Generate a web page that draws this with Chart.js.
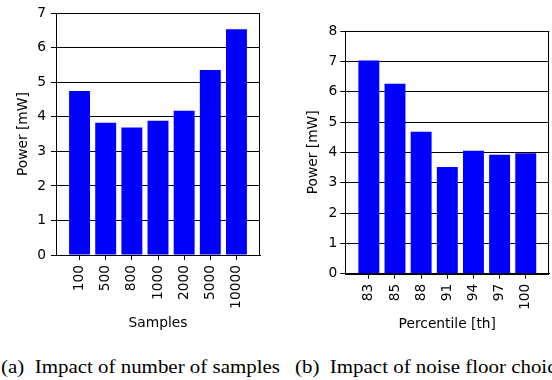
<!DOCTYPE html>
<html>
<head>
<meta charset="utf-8">
<script src="https://cdn.jsdelivr.net/npm/chart.js@4.4.0/dist/chart.umd.min.js"></script>
<style>
  body { margin: 0; background: #fff; }
  #wrap { position: relative; width: 552px; height: 380px; overflow: hidden; background: #fff; }
  .box { position: absolute; }
  .caption {
    position: absolute; white-space: pre; font-family: "Liberation Serif", "Times New Roman", serif;
    font-size: 18px; line-height: 18px; color: #000; transform-origin: 0 0;
  }
</style>
</head>
<body>
<div id="wrap">
  <div class="box" style="left:0px;top:0px;width:276px;height:335px"><canvas id="chartA"></canvas></div>
  <div class="box" style="left:276px;top:0px;width:276px;height:336px"><canvas id="chartB"></canvas></div>
  <div class="caption" id="capA" style="left:1px;top:357.6px">(a)  Impact of number of samples</div>
  <div class="caption" id="capB" style="left:295px;top:357.6px">(b)  Impact of noise floor choice</div>
</div>
<script>
// data
var sampleLabels = ['100', '500', '800', '1000', '2000', '5000', '10000']
var samplePower = [4.75, 3.83, 3.69, 3.89, 4.18, 5.36, 6.54]

var percentileLabels = ['83', '85', '88', '91', '94', '97', '100']
var percentilePower = [7.03, 6.26, 4.68, 3.52, 4.05, 3.92, 3.97]

Chart.defaults.font.family = "'DejaVu Sans', sans-serif"
Chart.defaults.font.size = 13.8
Chart.defaults.color = '#000'

//draws the full box round the plot area, like matplotlib spines
var frame = {
    id: 'frame',
    afterDraw: function (chart) {
        var a = chart.chartArea
        var ctx = chart.ctx
        ctx.save()
        ctx.strokeStyle = '#000'
        ctx.lineWidth = 1
        ctx.strokeRect(Math.round(a.left) + 0.5, Math.round(a.top) + 0.5,
            Math.round(a.right) - Math.round(a.left) - 1, Math.round(a.bottom) - Math.round(a.top))
        ctx.restore()
    }
}

function makeChart(id, labels, values, yMax, xTitle, lay) {
    var ctx = document.getElementById(id).getContext('2d')
    var data = {
        datasets: [{
            data: values.map(function (v, i) { return { x: i, y: v } }),
            backgroundColor: '#0000FF',
            borderWidth: 0,
            barPercentage: 0.8,
            categoryPercentage: 1.0
        }]
    }
    var config = {
        type: 'bar',
        data: data,
        options: {
            responsive: true,
            maintainAspectRatio: false,
            animation: false,
            layout: { padding: { top: lay.top, right: lay.right, left: 0, bottom: lay.bottom } },
            plugins: { legend: { display: false }, tooltip: { enabled: false } },
            scales: {
                x: {
                    type: 'linear',
                    offset: false,
                    min: -0.9,
                    max: labels.length - 0.1,
                    afterBuildTicks: function (s) { s.ticks = labels.map(function (l, i) { return { value: i } }) },
                    afterFit: function (s) { s.height = lay.xHeight },
                    grid: { offset: false, drawOnChartArea: false, drawTicks: true, tickLength: 5, tickColor: '#000', lineWidth: 1 },
                    border: { color: '#000' },
                    ticks: {
                        autoSkip: false,
                        minRotation: 90,
                        maxRotation: 90,
                        padding: lay.xPad,
                        callback: function (v) { return labels[v] }
                    },
                    title: { display: true, text: xTitle, padding: { top: 0, bottom: lay.xTitlePad } }
                },
                y: {
                    min: 0,
                    max: yMax,
                    z: 1,
                    afterFit: function (s) { s.width = lay.yWidth },
                    grid: { color: '#000', lineWidth: 1, tickLength: 5, tickColor: '#000' },
                    border: { color: '#000' },
                    ticks: { stepSize: 1, padding: lay.yPad },
                    title: { display: true, text: 'Power [mW]', padding: { top: lay.yTitlePad, bottom: 0 } }
                }
            }
        },
        plugins: [frame]
    }
    return new Chart(ctx, config)
}

makeChart('chartA', sampleLabels, samplePower, 7, 'Samples',
    { top: 12, right: 16, bottom: 0, xHeight: 80, yWidth: 56, xPad: 5, yPad: 5, yTitlePad: 15, xTitlePad: 3.7 })
makeChart('chartB', percentileLabels, percentilePower, 8, 'Percentile [th]',
    { top: 31, right: 2.7, bottom: 0, xHeight: 62.3, yWidth: 69.3, xPad: 5, yPad: 3, yTitlePad: 29, xTitlePad: 3.7 })

//stretch the captions to the width they have in the figure
var capA = document.getElementById('capA')
var sx = 279 / capA.offsetWidth
capA.style.transform = 'scaleX(' + sx + ')'
document.getElementById('capB').style.transform = 'scaleX(' + sx + ')'
</script>
</body>
</html>
